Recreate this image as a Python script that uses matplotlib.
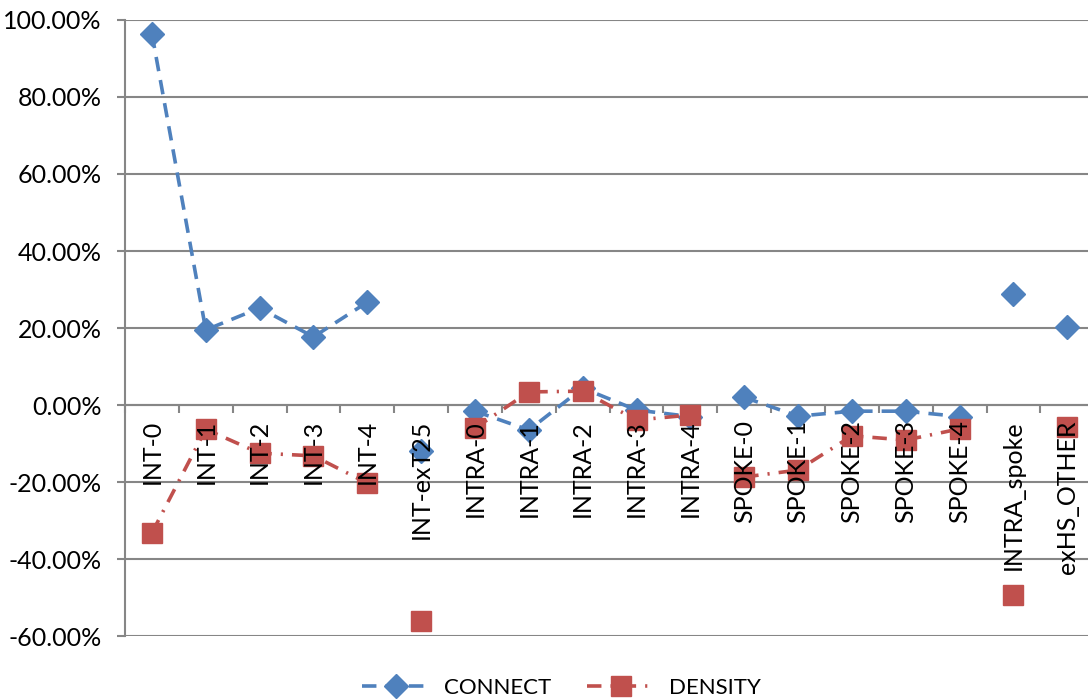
import matplotlib.pyplot as plt
from matplotlib.ticker import FixedLocator, PercentFormatter
from matplotlib.transforms import offset_copy

categories = ["INT-0", "INT-1", "INT-2", "INT-3", "INT-4", "INT-exT25",
              "INTRA-0", "INTRA-1", "INTRA-2", "INTRA-3", "INTRA-4",
              "SPOKE-0", "SPOKE-1", "SPOKE-2", "SPOKE-3", "SPOKE-4",
              "INTRA_spoke", "exHS_OTHER"]

connect = [96.4, 19.5, 25.2, 17.7, 26.7, -12.0,
           -1.6, -6.5, 4.4, -1.3, -3.0,
           2.0, -2.9, -1.6, -1.6, -3.0,
           28.8, 20.3]

density = [-33.2, -6.3, -12.5, -13.2, -20.3, -56.1,
           -6.0, 3.4, 3.6, -3.9, -2.6,
           -18.7, -16.9, -8.0, -9.1, -6.2,
           -49.4, -5.7]

# series are joined only inside each group of categories
groups = [(0, 5), (5, 6), (6, 11), (11, 16), (16, 17), (17, 18)]

plt.rcParams['font.family'] = ['Lato', 'DejaVu Sans']
plt.rcParams['axes.unicode_minus'] = False

blue = "#4F81BD"
red = "#C0504D"
grid = "#868686"

fig = plt.figure(figsize=(10.88, 6.99), dpi=100)
ax = fig.add_axes([0.1149, 0.0901, 0.8908, 0.8813])

x = list(range(len(categories)))
for k, (a, b) in enumerate(groups):
    ax.plot(x[a:b], connect[a:b], color=blue, lw=2.6, ls=(0, (4, 2.5)),
            marker="D", ms=12, mec=blue, mfc=blue, zorder=3,
            label="CONNECT" if k == 0 else None)
for k, (a, b) in enumerate(groups):
    ax.plot(x[a:b], density[a:b], color=red, lw=2.6, ls=(0, (4, 2.5, 0.6, 2.5)),
            marker="s", ms=14.5, mec=red, mfc=red, zorder=4,
            label="DENSITY" if k == 0 else None)

ax.set_xlim(-0.5, len(categories) - 0.5)
ax.set_ylim(-60, 100)
ax.yaxis.set_major_locator(FixedLocator(range(-60, 101, 20)))
ax.yaxis.set_major_formatter(PercentFormatter(decimals=2))
ax.grid(axis="y", color=grid, lw=1.5)
ax.set_axisbelow(True)

# category axis crosses at zero, tick marks sit between categories
ax.spines["bottom"].set_position(("data", 0))
ax.spines["bottom"].set_color(grid)
ax.spines["bottom"].set_linewidth(1.5)
ax.spines["left"].set_color(grid)
ax.spines["left"].set_linewidth(1.5)
ax.spines["top"].set_visible(False)
ax.spines["right"].set_visible(False)

ax.set_xticks([i + 0.5 for i in range(-1, len(categories))])
ax.set_xticklabels([])
ax.tick_params(axis="x", direction="out", length=6, color=grid, width=1.5)
ax.tick_params(axis="y", direction="out", length=6, color=grid, width=1.5,
               pad=11, labelsize=18)

# category names are written over the markers, just below the zero line
label_tr = offset_copy(ax.transData, fig=fig, y=-15, units="dots")
for i, name in enumerate(categories):
    ax.text(i, 0, name, transform=label_tr, rotation=90, ha="center", va="top",
            fontsize=18, zorder=6)

ax.legend(loc="center", bbox_to_anchor=(0.516, 0.0157), bbox_transform=fig.transFigure,
          ncol=2, frameon=False, fontsize=16, handlelength=3.1, columnspacing=1.6,
          handletextpad=0.6)

fig.savefig("out.png", dpi=100)
